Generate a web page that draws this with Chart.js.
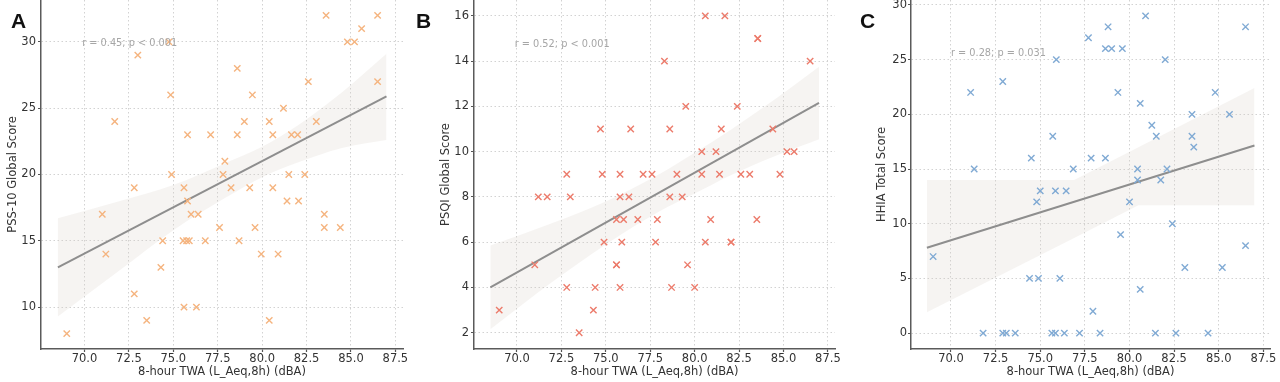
<!DOCTYPE html>
<html>
<head>
<meta charset="utf-8">
<script src="https://cdn.jsdelivr.net/npm/chart.js@4.4.1/dist/chart.umd.min.js"></script>
<style>
	html, body { margin: 0; padding: 0; background: #fff; }
	#wrap { position: relative; width: 1280px; height: 382px; overflow: hidden; }
	#wrap canvas { position: absolute; top: 0; }
	.tag { position: absolute; top: 10px; font: bold 21px 'Liberation Sans', Arial, sans-serif; line-height: 1; color: #111; }
</style>
</head>
<body>
<div id="wrap">
	<canvas id="chartA" width="420" height="382" style="left:0px"></canvas>
	<canvas id="chartB" width="420" height="382" style="left:430px"></canvas>
	<canvas id="chartC" width="420" height="382" style="left:860px"></canvas>
	<div class="tag" style="left:11px">A</div>
	<div class="tag" style="left:416px">B</div>
	<div class="tag" style="left:860px">C</div>
</div>
<script>
(function () {
	'use strict';

	// panel A: PSS-10
	var xA = [69.0, 71.0, 71.2, 71.7, 72.8, 72.8, 73.0, 73.5, 74.3, 74.4, 74.75, 74.85, 74.9, 75.55, 75.6, 75.6, 75.75, 75.8, 75.8, 75.9,
		76.0, 76.3, 76.4, 76.8, 77.1, 77.6, 77.8, 77.9, 78.25, 78.6, 78.6, 78.7, 79.0, 79.3, 79.45, 79.6, 79.95, 80.4, 80.4, 80.6,
		80.6, 80.9, 81.2, 81.4, 81.5, 81.65, 82.0, 82.05, 82.4, 82.6, 83.05, 83.5, 83.5, 83.6, 84.4, 84.8, 85.2, 85.6, 86.5, 86.5];
	var yA = [8, 17, 14, 24, 19, 11, 29, 9, 13, 15, 30, 26, 20, 15, 19, 10, 15, 23, 18, 15,
		17, 10, 17, 15, 23, 16, 20, 21, 19, 28, 23, 15, 24, 19, 26, 16, 14, 24, 9, 23,
		19, 14, 25, 18, 20, 23, 23, 18, 20, 27, 24, 17, 16, 32, 16, 30, 30, 31, 32, 27];
	var fitXA = [68.5, 87.0];
	var fitYA = [13.0, 25.9];
	var bandXA = [68.5, 72, 75, 78, 80, 82, 84.5, 87];
	var bandHiA = [16.7, 18.0, 19.2, 20.9, 22.1, 23.7, 26.2, 29.1];
	var bandLoA = [9.3, 12.8, 15.8, 18.3, 19.8, 20.9, 22.0, 22.6];

	// panel B: PSQI
	var xB = [69.0, 71.0, 71.2, 71.7, 72.8, 73.0, 72.8, 73.5, 74.3, 74.4, 74.7, 74.8, 74.9, 75.6, 75.6, 75.6, 75.8, 75.8, 75.8, 75.9,
		76.0, 76.3, 76.4, 76.8, 77.1, 77.6, 77.8, 77.9, 78.3, 78.6, 78.6, 78.7, 79.0, 79.3, 79.5, 79.6, 80.0, 80.4, 80.4, 80.6,
		80.6, 80.9, 81.2, 81.4, 81.5, 81.7, 82.05, 82.05, 82.4, 82.6, 83.1, 83.5, 83.55, 83.55, 84.4, 84.8, 85.2, 85.6, 86.5];
	var yB = [3, 5, 8, 8, 9, 8, 4, 2, 3, 4, 11, 9, 6, 5, 5, 7, 9, 8, 4, 6,
		7, 8, 11, 7, 9, 9, 6, 7, 14, 11, 8, 4, 9, 8, 12, 5, 4, 9, 10, 16,
		6, 7, 10, 9, 11, 16, 6, 6, 12, 9, 9, 7, 15, 15, 11, 9, 10, 10, 14];
	var fitXB = [68.5, 87.0];
	var fitYB = [4.0, 12.15];
	var bandXB = [68.5, 72, 75, 78, 80, 82, 84.5, 87];
	var bandHiB = [5.85, 6.85, 7.8, 9.0, 9.95, 10.95, 12.3, 13.75];
	var bandLoB = [2.15, 4.25, 5.9, 7.35, 8.15, 8.95, 9.8, 10.55];

	// panel C: HHIA
	var xC = [69.0, 71.1, 71.3, 71.8, 72.9, 72.9, 73.1, 73.6, 74.4, 74.9, 74.5, 74.8, 75.0, 75.7, 75.9, 75.85, 76.45, 76.1, 75.65, 75.85,
		76.35, 77.2, 78.35, 81.45, 82.6, 84.4, 77.95, 80.6, 83.1, 85.2, 86.5, 79.5, 82.4, 80.0, 76.85, 77.85, 78.65, 80.45, 80.45, 81.75,
		82.1, 81.5, 81.25, 83.5, 83.6, 83.5, 85.6, 80.6, 79.35, 84.8, 82.0, 78.65, 79.0, 79.6, 78.8, 77.7, 80.9, 86.5];
	var yC = [7, 22, 15, 0, 23, 0, 0, 0, 5, 5, 16, 12, 13, 18, 25, 13, 13, 5, 0, 0,
		0, 0, 0, 0, 0, 0, 2, 4, 6, 6, 8, 9, 10, 12, 15, 16, 16, 15, 14, 14,
		15, 18, 19, 18, 17, 20, 20, 21, 22, 22, 25, 26, 26, 26, 28, 27, 29, 28];
	var fitXC = [68.65, 87.0];
	var fitYC = [7.8, 17.15];
	var bandXC = [68.65, 76.9, 80.5, 87.0];
	var bandHiC = [14.0, 14.0, 17.0, 22.4];
	var bandLoC = [1.9, 8.7, 11.7, 11.7];

	var FONT = "'DejaVu Sans', sans-serif";
	var INK = '#333333';

	Chart.defaults.animation = false;
	Chart.defaults.font.family = FONT;

	function pts(xs, ys) {
		return xs.map(function (x, i) { return { x: x, y: ys[i] }; });
	}

	var statText = {
		id: 'statText',
		afterDatasetsDraw: function (chart, args, opts) {
			var ctx = chart.ctx;
			ctx.save();
			ctx.font = '9.75px ' + FONT;
			ctx.fillStyle = '#a6a6a6';
			ctx.textAlign = 'left';
			ctx.textBaseline = 'middle';
			ctx.fillText(opts.text, chart.scales.x.getPixelForValue(opts.x), chart.scales.y.getPixelForValue(opts.y));
			ctx.restore();
		}
	};

	function makePanel(id, p) {
		var el = document.getElementById(id);
		if (!el) return null;
		return new Chart(el, {
			type: 'scatter',
			data: {
				datasets: [{
					data: pts(p.x, p.y),
					pointStyle: 'crossRot',
					pointRadius: 4.5,
					pointHoverRadius: 4.5,
					borderColor: p.color,
					backgroundColor: p.color,
					borderWidth: 1.4
				}, {
					type: 'line',
					data: pts(p.fitX, p.fitY),
					borderColor: '#8e8e8e',
					borderWidth: 2,
					pointRadius: 0,
					fill: false
				}, {
					type: 'line',
					data: pts(p.bandX, p.bandLo),
					borderWidth: 0,
					pointRadius: 0,
					cubicInterpolationMode: p.smooth ? 'monotone' : 'default',
					fill: false
				}, {
					type: 'line',
					data: pts(p.bandX, p.bandHi),
					borderWidth: 0,
					pointRadius: 0,
					cubicInterpolationMode: p.smooth ? 'monotone' : 'default',
					backgroundColor: 'rgba(214,204,194,0.22)',
					fill: '-1'
				}]
			},
			options: {
				responsive: false,
				layout: { autoPadding: false, padding: { left: 0, right: p.padRight, top: 0, bottom: 0 } },
				plugins: {
					legend: { display: false },
					tooltip: { enabled: false },
					statText: { text: p.stat, x: p.statX, y: p.statY }
				},
				scales: {
					x: {
						type: 'linear',
						min: p.xMin,
						max: p.xMax,
						ticks: {
							stepSize: 2.5, includeBounds: false, autoSkip: false, maxRotation: 0,
							padding: 0, color: INK, font: { size: 11.5 },
							callback: function (v) { return v.toFixed(1); }
						},
						grid: { color: '#d2d2d2', lineWidth: 1, tickLength: 3, tickColor: '#555', tickWidth: 1.2 },
						border: { color: '#5a5a5a', width: 1.5, dash: [1.5, 2.5] },
						title: {
							display: true, text: '8-hour TWA (L_Aeq,8h) (dBA)', color: INK,
							font: { size: 11.5 }, padding: { top: 0, bottom: 3 }
						},
						afterFit: function (s) { s.height = 33; s.paddingLeft = 0; s.paddingRight = 0; }
					},
					y: {
						type: 'linear',
						min: p.yMin,
						max: p.yMax,
						ticks: {
							stepSize: p.yStep, includeBounds: false, padding: p.tickPad,
							color: INK, font: { size: 11.5 },
							callback: function (v) { return String(v); }
						},
						grid: { color: '#d2d2d2', lineWidth: 1, tickLength: 3, tickColor: '#555', tickWidth: 1.2 },
						border: { color: '#5a5a5a', width: 1.5, dash: [1.5, 2.5] },
						title: {
							display: true, text: p.yTitle, color: INK,
							font: { size: 11.5 }, padding: { top: p.titlePad, bottom: 0 }
						},
						afterFit: function (s) { s.width = p.axisW; s.paddingTop = 0; s.paddingBottom = 0; }
					}
				}
			},
			plugins: [statText]
		});
	}

	makePanel('chartA', {
		x: xA, y: yA, fitX: fitXA, fitY: fitYA, bandX: bandXA, bandHi: bandHiA, bandLo: bandLoA, smooth: true,
		color: '#f5b47f', xMin: 67.55, xMax: 87.93, yMin: 6.84, yMax: 33.16, yStep: 5,
		yTitle: 'PSS-10 Global Score', axisW: 41, padRight: 17, titlePad: 6, tickPad: 2,
		stat: 'r = 0.45; p < 0.001', statX: 69.87, statY: 29.9
	});

	makePanel('chartB', {
		x: xB, y: yB, fitX: fitXB, fitY: fitYB, bandX: bandXB, bandHi: bandHiB, bandLo: bandLoB, smooth: true,
		color: '#ec7b6b', xMin: 67.58, xMax: 87.9, yMin: 1.28, yMax: 16.7, yStep: 2,
		yTitle: 'PSQI Global Score', axisW: 44, padRight: 15, titlePad: 9, tickPad: 2,
		stat: 'r = 0.52; p < 0.001', statX: 69.87, statY: 14.74
	});

	makePanel('chartC', {
		x: xC, y: yC, fitX: fitXC, fitY: fitYC, bandX: bandXC, bandHi: bandHiC, bandLo: bandLoC, smooth: false,
		color: '#80aad4', xMin: 67.76, xMax: 87.87, yMin: -1.45, yMax: 30.45, yStep: 5,
		yTitle: 'HHIA Total Score', axisW: 51, padRight: 10, titlePad: 15.5, tickPad: 1,
		stat: 'r = 0.28; p = 0.031', statX: 70.0, statY: 25.56
	});
})();
</script>
</body>
</html>
